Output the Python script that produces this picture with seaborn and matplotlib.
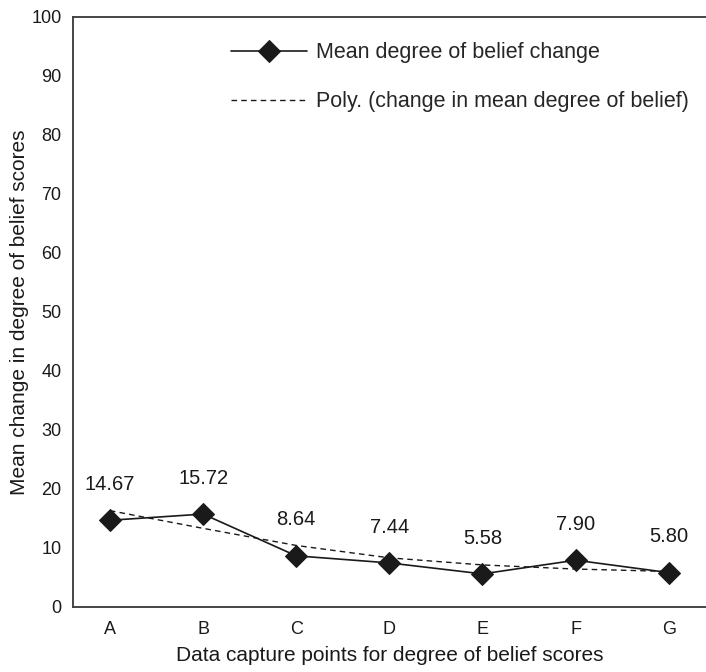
import pandas as pd
import matplotlib
matplotlib.use("Agg")
import matplotlib.pyplot as plt
import seaborn as sns

points = ["A", "B", "C", "D", "E", "F", "G"]
mean_change = [14.67, 15.72, 8.64, 7.44, 5.58, 7.90, 5.80]
poly_trend = [16.3, 13.3, 10.4, 8.3, 7.1, 6.4, 6.0]
value_labels = ["14.67", "15.72", "8.64", "7.44", "5.58", "7.90", "5.80"]

sns.set_style("white")
plt.rcParams["font.family"] = ["Liberation Sans", "DejaVu Sans"]

df = pd.DataFrame({"point": points, "x": range(len(points)),
                   "mean": mean_change, "poly": poly_trend})

fig = plt.figure(figsize=(7.06, 6.72), dpi=100)
ax = fig.add_axes([0.103, 0.097, 0.897, 0.878])

sns.lineplot(data=df, x="x", y="mean", ax=ax, color="#1a1a1a", linewidth=1.2,
             marker="D", markersize=11, markeredgecolor="#1a1a1a",
             label="Mean degree of belief change")
sns.lineplot(data=df, x="x", y="poly", ax=ax, color="#1a1a1a", linewidth=1.0,
             linestyle=(0, (4, 3)),
             label="Poly. (change in mean degree of belief)")

for i, txt in enumerate(value_labels):
    ax.annotate(txt, (i, mean_change[i]), xytext=(0, 19), textcoords="offset points",
                ha="center", va="bottom", fontsize=14.5, color="#1a1a1a")

ax.set_xlim(-0.4, 6.4)
ax.set_ylim(0, 100)
ax.set_xticks(range(len(points)))
ax.set_xticklabels(points)
ax.set_yticks(range(0, 101, 10))
ax.tick_params(length=0, labelsize=13, colors="#1a1a1a", pad=8)
ax.tick_params(axis="x", pad=10)
ax.set_xlabel("Data capture points for degree of belief scores", fontsize=15,
              color="#1a1a1a", labelpad=6)
ax.set_ylabel("Mean change in degree of belief scores", fontsize=15,
              color="#1a1a1a", labelpad=2)

ax.spines["right"].set_visible(False)
for s in ["left", "top", "bottom"]:
    ax.spines[s].set_color("#444444")
    ax.spines[s].set_linewidth(1.4)

ax.legend(loc="upper left", bbox_to_anchor=(0.22, 0.99), frameon=False,
          fontsize=15.5, handlelength=3.5, labelspacing=1.3, handletextpad=0.45)

fig.savefig("out.png", dpi=100)
